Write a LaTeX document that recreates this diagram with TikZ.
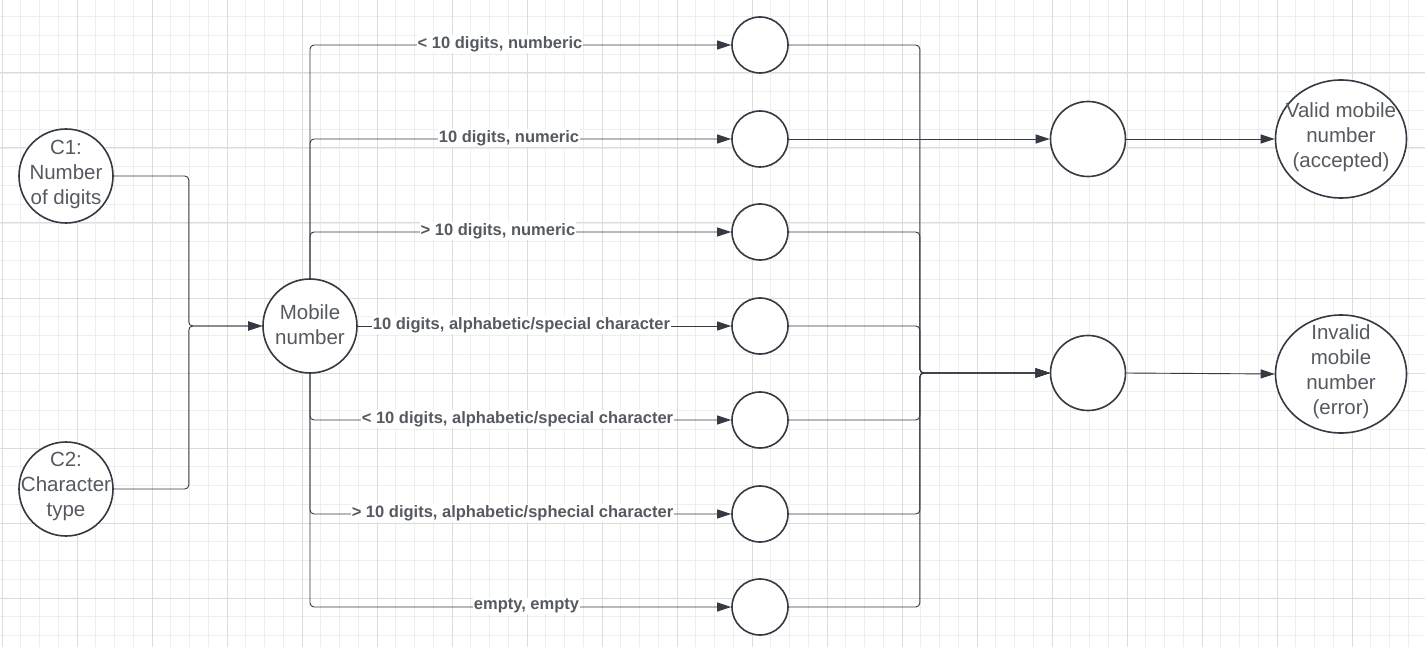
\documentclass[tikz,border=0pt]{standalone}
\usepackage{fontspec}
\setmainfont{Liberation Sans}
\usetikzlibrary{arrows.meta,shapes.geometric}
\definecolor{ln}{HTML}{333A44}
\definecolor{tx}{HTML}{555A61}
\definecolor{gmin}{HTML}{EEEEEE}
\definecolor{gmaj}{HTML}{DCDCDC}
\begin{document}
\begin{tikzpicture}[x=1pt,y=-1pt,
  circ/.style={circle,draw=ln,line width=1.6pt,fill=white,inner sep=0pt,minimum size=#1},
  oval/.style={ellipse,draw=ln,line width=1.6pt,fill=white,inner sep=0pt,minimum width=131pt,minimum height=118pt},
  txt/.style={text=tx,align=center,font=\fontsize{20.5}{25}\selectfont,inner sep=0pt},
  lbl/.style={text=tx,fill=white,inner sep=1pt,font=\fontsize{16.5}{19}\selectfont\bfseries},
  conn/.style={draw=ln,line width=0.9pt,rounded corners=4pt},
  arr/.style={conn,-{Triangle[length=14pt,width=9pt]}}
]
\useasboundingbox (0,0) rectangle (1425,647);
\fill[white] (0,0) rectangle (1425,647);
% grid
\foreach \i in {0,...,76} {
  \draw[gmin,line width=0.8pt] ({2+18.75*\i},0) -- ({2+18.75*\i},647);
}
\foreach \i in {0,...,35} {
  \draw[gmin,line width=0.8pt] (0,{-2+18.75*\i}) -- (1425,{-2+18.75*\i});
}
\foreach \i in {0,...,19} {
  \draw[gmaj,line width=1pt] ({2+75*\i},0) -- ({2+75*\i},647);
}
\foreach \i in {0,...,9} {
  \draw[gmaj,line width=1pt] (0,{-2+75*\i}) -- (1425,{-2+75*\i});
}
% nodes
\node[circ=94pt] (c1) at (66,176) {};
\node[circ=94pt] (c2) at (66,489) {};
\node[circ=94pt] (mob) at (310,326) {};
\node[circ=56pt] (s1) at (760,45) {};
\node[circ=56pt] (s2) at (760,139) {};
\node[circ=56pt] (s3) at (760,232) {};
\node[circ=56pt] (s4) at (760,326) {};
\node[circ=56pt] (s5) at (760,420) {};
\node[circ=56pt] (s6) at (760,514) {};
\node[circ=56pt] (s7) at (760,607) {};
\node[circ=75pt] (m1) at (1088,139) {};
\node[circ=75pt] (m2) at (1088,373) {};
\node[oval] (ok) at (1341,139) {};
\node[oval] (bad) at (1341,374) {};
% texts
\node[txt] (c1t) at (66,174) {C1:\\Number\\of digits};
\node[txt] (c2t) at (66,486) {C2:\\Character\\type};
\node[txt] (mobt) at (310,325) {Mobile\\number};
\node[txt] (okt) at (1341,137) {Valid mobile\\number\\(accepted)};
\node[txt] (badt) at (1341,372) {Invalid\\mobile\\number\\(error)};
% connectors
\draw[arr] (c1.east) -- ++(75,0) |- (mob.west);
\draw[arr] (c2.east) -- ++(75,0) |- (mob.west);
\draw[arr] (mob.north) |- (s1.west);
\draw[arr] (mob.north) |- (s2.west);
\draw[arr] (mob.north) |- (s3.west);
\draw[arr] (mob.east) -- (s4.west);
\draw[arr] (mob.south) |- (s5.west);
\draw[arr] (mob.south) |- (s6.west);
\draw[arr] (mob.south) |- (s7.west);
\draw[arr] (s2.east) -- (m1.west);
\foreach \s in {s1,s3,s4,s5,s6,s7} {
  \draw[arr] (\s.east) -- ++(131,0) |- (m2.west);
}
\draw[arr] (m1.east) -- (ok.west);
\draw[arr] (m2.east) -- (bad.west);
% labels
\node[lbl] (l1) at (500,44) {< 10 digits, numberic};
\node[lbl] (l2) at (509,138) {10 digits, numeric};
\node[lbl] (l3) at (498,231) {> 10 digits, numeric};
\node[lbl] (l4) at (521.5,325) {10 digits, alphabetic/special character};
\node[lbl] (l5) at (517.5,419) {< 10 digits, alphabetic/special character};
\node[lbl] (l6) at (512.5,513) {> 10 digits, alphabetic/sphecial character};
\node[lbl] (l7) at (526.5,606) {empty, empty};
\end{tikzpicture}
\end{document}
